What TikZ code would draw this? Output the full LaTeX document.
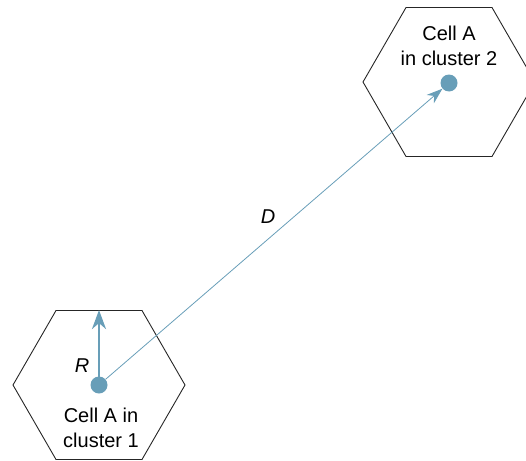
\documentclass[tikz,border=0pt]{standalone}
\usepackage{fontspec}
\setmainfont{Liberation Sans}
\usetikzlibrary{shapes.geometric,arrows.meta}
\definecolor{cellblue}{RGB}{104,158,184}

\tikzset{
    cell/.style={regular polygon, regular polygon sides=6, draw=black!85, line width=0.9pt, minimum size=172pt, inner sep=0pt},
    site/.style={circle, fill=cellblue, minimum size=17pt, inner sep=0pt},
    celltext/.style={align=center, font=\fontsize{20}{25}\selectfont},
    radius/.style={draw=cellblue, line width=2.6pt, -{Stealth[length=19pt,width=14pt,inset=6pt]}},
    reuse/.style={draw=cellblue, line width=0.8pt, -{Stealth[length=16pt,width=11pt,inset=5pt]}}
}

\begin{document}
\begin{tikzpicture}[x=1pt,y=-1pt]
\useasboundingbox (0,0) rectangle (526,460);

% ===== cluster 1 =====
\node[cell] (hex1) at (99,385) {};
\node[site] (a1) at (99,385) {};
\node[celltext] (t1) at (101,428) {Cell A in\\cluster 1};
\draw[radius] (a1.center) -- (hex1.north);
\node[font=\fontsize{20}{25}\selectfont\itshape] (r) at (82,366) {R};

% ===== cluster 2 =====
\node[cell] (hex2) at (449,82) {};
\node[site] (a2) at (449,83) {};
\node[celltext] (t2) at (449,46) {Cell A\\in cluster 2};

% ===== reuse distance =====
\draw[reuse] (a1) -- (a2);
\node[font=\fontsize{20}{25}\selectfont\itshape] (d) at (268,217) {D};

\end{tikzpicture}
\end{document}
